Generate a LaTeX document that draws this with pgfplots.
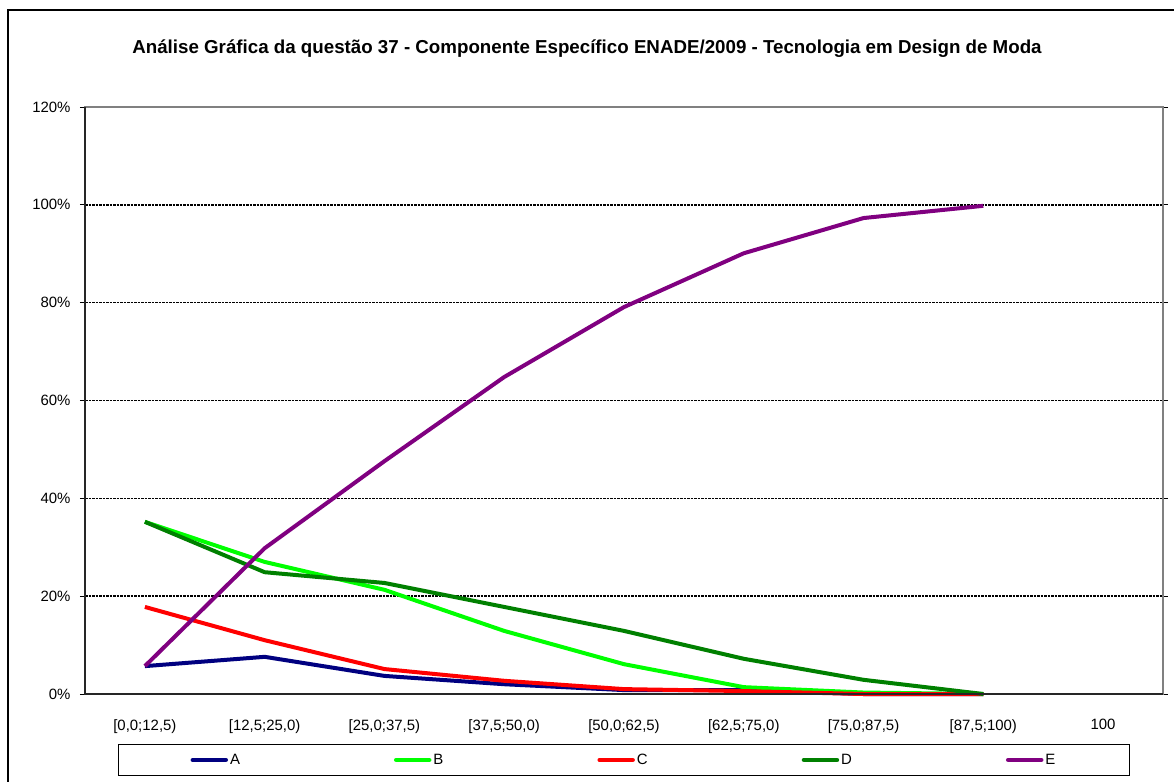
\documentclass[border=0pt]{standalone}
\usepackage{pgfplots}
\pgfplotsset{compat=1.18}
\usepackage{fontspec}
\setmainfont{Liberation Sans}
\definecolor{cA}{RGB}{0,0,128}
\definecolor{cB}{RGB}{0,255,0}
\definecolor{cC}{RGB}{255,0,0}
\definecolor{cD}{RGB}{0,128,0}
\definecolor{cE}{RGB}{128,0,128}
\begin{document}
\begin{tikzpicture}
\useasboundingbox (0bp,0bp) rectangle (1174bp,-782bp);
\draw[line width=2bp] (8bp,-10bp) rectangle (1200bp,-800bp);
\node[font=\bfseries\fontsize{18.8}{22}\selectfont] at (587bp,-49bp) {Análise Gráfica da questão 37 - Componente Específico ENADE/2009 - Tecnologia em Design de Moda};
\begin{axis}[
  at={(85bp,-694bp)}, anchor=south west,
  width=1078bp, height=587bp, scale only axis,
  xmin=-0.5, xmax=8.5, ymin=0, ymax=120,
  xtick={0,1,2,3,4,5,6,7,8},
  xticklabels={{[0,0;12,5)},{[12,5;25,0)},{[25,0;37,5)},{[37,5;50,0)},{[50,0;62,5)},{[62,5;75,0)},{[75,0;87,5)},{[87,5;100)},{100}},
  x tick style={draw=none},
  extra x ticks={-0.5,0.5,1.5,2.5,3.5,4.5,5.5,6.5,7.5,8.5},
  extra x tick labels={},
  extra x tick style={tick style={draw=black, line width=1bp}},
  ytick={0,20,40,60,80,100,120},
  yticklabels={0\%,20\%,40\%,60\%,80\%,100\%,120\%},
  tick label style={font=\fontsize{15}{17}\selectfont},
  xticklabel style={yshift=-17bp},
  yticklabel style={xshift=-6bp},
  tick align=outside, major tick length=5bp,
  y tick style={line width=1bp, black},
  axis line style={draw=gray, line width=1.5bp},
  ymajorgrids,
  major grid style={black, line width=1.5bp, dash pattern=on 2.5bp off 1bp},
  legend columns=5,
  legend style={at={(0.5,-0.0852)}, anchor=north, draw=black, line width=1bp,
    inner xsep=72bp, inner ysep=7.5bp,
    font=\fontsize{15}{17}\selectfont,
    /tikz/every even column/.append style={column sep=152bp}},
  legend image code/.code={\draw[#1, line width=4.5bp, line cap=round] (0bp,0bp) -- (33bp,0bp);},
  every axis plot/.append style={line width=4bp, line join=round},
  clip=false,
]
\addplot[cA] coordinates {(0,5.7) (1,7.6) (2,3.7) (3,2.0) (4,0.8) (5,0.8) (6,0) (7,0)};
\addplot[cB] coordinates {(0,35.2) (1,27.0) (2,21.3) (3,12.9) (4,6.1) (5,1.4) (6,0.3) (7,0)};
\addplot[cC] coordinates {(0,17.8) (1,11.0) (2,5.1) (3,2.7) (4,1.0) (5,0.6) (6,0) (7,0)};
\addplot[cD] coordinates {(0,35.2) (1,24.9) (2,22.7) (3,17.8) (4,12.9) (5,7.2) (6,2.9) (7,0)};
\addplot[cE] coordinates {(0,5.7) (1,29.8) (2,47.6) (3,64.8) (4,79.1) (5,90.1) (6,97.3) (7,99.8)};
\legend{A,B,C,D,E}
\draw[line width=1.5bp, gray] (rel axis cs:0,1) -- (rel axis cs:1,1) -- (rel axis cs:1,0);
\draw[line width=1.5bp, black!85] (rel axis cs:0,1) -- (rel axis cs:0,0) -- (rel axis cs:1,0);
\end{axis}
\end{tikzpicture}
\end{document}
